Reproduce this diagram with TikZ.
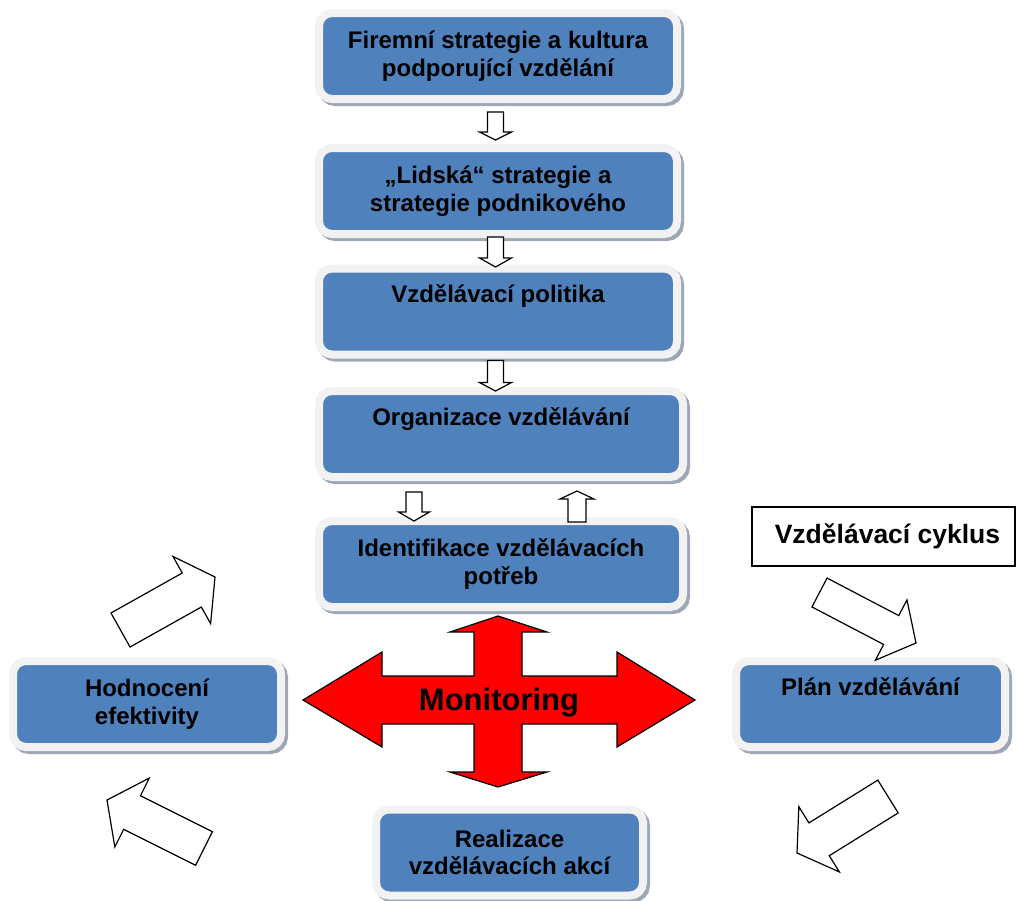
\documentclass[tikz,border=0pt]{standalone}
\usepackage{fontspec}
\setmainfont{Liberation Sans}
\usetikzlibrary{calc}
\definecolor{boxblue}{HTML}{4F81BD}
\definecolor{framegray}{HTML}{F2F2F2}
\definecolor{shadowgray}{HTML}{9DA7B6}
\definecolor{crossred}{HTML}{FF0000}
\newcommand\bxfont{\fontsize{24}{27.6}\selectfont\bfseries}
\newcommand\blockarrow[5]{%
  \coordinate (bah) at ($(#2)!#5!(#1)$);
  \draw[whitearrow] ($(#1)!#3!90:(#2)$) -- ($(bah)!#3!90:(#2)$) -- ($(bah)!#4!90:(#2)$)
    -- (#2) -- ($(bah)!#4!-90:(#2)$) -- ($(bah)!#3!-90:(#2)$) -- ($(#1)!#3!-90:(#2)$) -- cycle;}
\tikzset{
  bluebox/.style={draw=framegray, line width=8pt, fill=boxblue, rounded corners=13pt,
    inner sep=0pt, outer sep=0pt, align=center, font=\bxfont, text=black,
    minimum width=#1, minimum height=86pt,
    preaction={draw=shadowgray, transform canvas={shift={(3pt,-3pt)}}}},
  whitearrow/.style={draw=black, fill=white, line width=1.2pt, line join=miter},
  crossarrow/.style={draw=black, fill=crossred, line width=1.2pt, line join=miter},
  cyclebox/.style={draw=black, fill=white, line width=1.2pt, minimum width=263pt,
    minimum height=59pt, inner sep=0pt, font=\fontsize{26.5}{30}\selectfont\bfseries},
}
\begin{document}
\begin{tikzpicture}[x=1pt,y=-1pt]
\useasboundingbox (0,0) rectangle (1016,900);
% boxes
\node[bluebox=358pt] (b1) at (498,56) {Firemní strategie a kultura\\podporující vzdělání};
\node[bluebox=358pt] (b2) at (498,191) {„Lidská“ strategie a\\strategie podnikového};
\node[bluebox=358pt] (b3) at (498,311.5) {Vzdělávací politika\\\strut};
\node[bluebox=364pt] (b4) at (501,434) {Organizace vzdělávání\\\strut};
\node[bluebox=364pt] (b5) at (501,564) {Identifikace vzdělávacích\\potřeb};
\node[bluebox=268pt] (hod) at (147,704) {Hodnocení\\efektivity};
\node[bluebox=269pt] (plan) at (870.5,704) {Plán vzdělávání\\\strut};
\node[bluebox=267pt] (real) at (509.5,852.5) {Realizace\\vzdělávacích akcí};
\node[cyclebox] (cyk) at (883.5,536.5) {\hspace{8pt}Vzdělávací cyklus};
% small arrows between the boxes
\coordinate (a1t) at ($(b1.south)+(-2.5,13)$);
\coordinate (a1h) at ($(b2.north)+(-2.5,-8)$);
\coordinate (a2t) at ($(b2.south)+(-2.5,3)$);
\coordinate (a2h) at ($(b3.north)+(-2.5,-1.5)$);
\coordinate (a3t) at ($(b3.south)+(-2.5,6)$);
\coordinate (a3h) at ($(b4.north)+(-5.5,0)$);
\coordinate (a4t) at ($(b4.south)+(-87,15)$);
\coordinate (a4h) at ($(b5.north)+(-87,0)$);
\coordinate (a5t) at ($(b5.north)+(76,1)$);
\coordinate (a5h) at ($(b4.south)+(76,14)$);
\blockarrow{a1t}{a1h}{8pt}{16pt}{8pt}
\blockarrow{a2t}{a2h}{8pt}{16pt}{9pt}
\blockarrow{a3t}{a3h}{8pt}{16pt}{8.5pt}
\blockarrow{a4t}{a4h}{8pt}{15.5pt}{9pt}
\blockarrow{a5t}{a5h}{9pt}{17pt}{8pt}
% cycle arrows
\coordinate (ult) at (120.5,630);  \coordinate (ulh) at (215,577);
\coordinate (llt) at (204,848.5);  \coordinate (llh) at (107,800);
\coordinate (urt) at (819.5,592.5); \coordinate (urh) at (916,643);
\coordinate (lrt) at (888,796.5);  \coordinate (lrh) at (797,853);
\blockarrow{ult}{ulh}{19.5pt}{38.5pt}{26.6pt}
\blockarrow{llt}{llh}{18.8pt}{38.5pt}{28pt}
\blockarrow{urt}{urh}{16.3pt}{34pt}{28pt}
\blockarrow{lrt}{lrh}{19.3pt}{38.4pt}{26pt}
% monitoring cross
\draw[crossarrow] (498,616) -- (547,632) -- (522,632) -- (522,676) -- (617,676) -- (617,652)
  -- (695,700) -- (617,747) -- (617,724) -- (522,724) -- (522,772) -- (547,772)
  -- (498,787) -- (450,772) -- (474,772) -- (474,724) -- (382,724) -- (382,747)
  -- (303,700) -- (382,652) -- (382,676) -- (474,676) -- (474,632) -- (450,632) -- cycle;
\node[anchor=base, inner sep=0pt, font=\fontsize{31}{36}\selectfont\bfseries] (mon) at (499,710) {Monitoring};
\end{tikzpicture}
\end{document}
